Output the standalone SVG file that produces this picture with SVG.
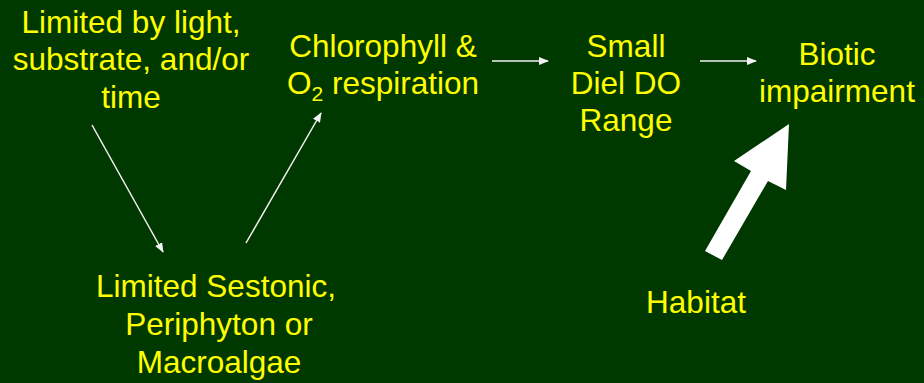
<svg xmlns="http://www.w3.org/2000/svg" width="924" height="383" viewBox="0 0 924 383">
<defs>
<style>
.t{font-family:"Liberation Sans",Arial,sans-serif;font-size:31.5px;fill:#ffff00;text-anchor:middle}
.c{stroke:#f2f2f2;stroke-width:1.5;fill:none;marker-end:url(#ah)}
</style>
<marker id="ah" markerUnits="userSpaceOnUse" markerWidth="12" markerHeight="10" refX="9" refY="4" orient="auto">
<path d="M0,0 L10,4 L0,8 Z" fill="#f2f2f2"/>
</marker>
</defs>
<rect width="924" height="383" fill="#003900"/>
<g id="connectors">
<line class="c" x1="92" y1="125" x2="163" y2="252"/>
<line class="c" x1="246" y1="243" x2="321" y2="113"/>
<line class="c" x1="492" y1="61" x2="548" y2="61"/>
<line class="c" x1="700" y1="61" x2="756" y2="61"/>
<polygon id="habitat-arrow" points="705,251 751,171 734,161 789,124 786,190 768,181 722,260" fill="#ffffff"/>
</g>
<g id="limited">
<text class="t" x="131" y="33">Limited by light,</text>
<text class="t" x="131" y="70">substrate, and/or</text>
<text class="t" x="131" y="108">time</text>
</g>
<g id="chlorophyll">
<text class="t" x="383" y="57">Chlorophyll &amp;</text>
<text class="t" x="383" y="94">O<tspan font-size="21" dy="7">2</tspan><tspan dy="-7"> respiration</tspan></text>
</g>
<g id="diel">
<text class="t" x="626" y="57">Small</text>
<text class="t" x="626" y="94">Diel DO</text>
<text class="t" x="626" y="131">Range</text>
</g>
<g id="biotic">
<text class="t" x="837" y="65">Biotic</text>
<text class="t" x="837" y="102">impairment</text>
</g>
<g id="sestonic">
<text class="t" x="216" y="297">Limited Sestonic,</text>
<text class="t" x="219" y="335">Periphyton or</text>
<text class="t" x="219" y="373">Macroalgae</text>
</g>
<g id="habitat">
<text class="t" x="696" y="313">Habitat</text>
</g>
</svg>
